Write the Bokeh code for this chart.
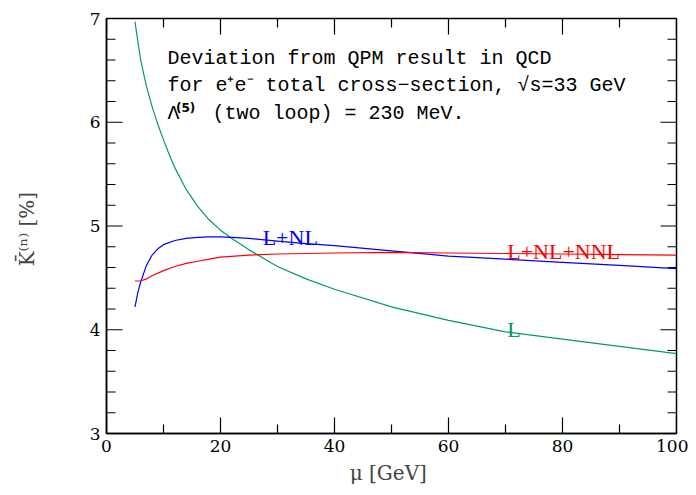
from bokeh.plotting import figure
from bokeh.models import Range1d, SingleIntervalTicker
from bokeh.core.properties import value
from bokeh.embed import file_html
from bokeh.resources import INLINE

# ---- data ----
mu_L = [5, 5.5, 6, 6.5, 7, 7.5, 8, 9, 10, 11, 12, 14, 16, 18, 20, 22, 25, 30, 35, 40, 50, 60, 70, 80, 90, 100]
K_L = [6.97, 6.78, 6.60, 6.47, 6.35, 6.25, 6.15, 5.98, 5.83, 5.69, 5.56, 5.35, 5.19, 5.06,
       4.96, 4.88, 4.77, 4.61, 4.49, 4.39, 4.22, 4.09, 3.98, 3.91, 3.84, 3.77]

mu_NL = [5, 5.5, 6, 7, 8, 9, 10, 12, 14, 16, 18, 20, 22, 25, 30, 35, 40, 50, 60, 70, 80, 90, 100]
K_NL = [4.22, 4.36, 4.46, 4.62, 4.72, 4.78, 4.82, 4.86, 4.88, 4.89, 4.895, 4.895, 4.89,
        4.88, 4.855, 4.83, 4.81, 4.76, 4.71, 4.68, 4.65, 4.62, 4.59]

mu_NNL = [5, 6, 7, 8, 10, 12, 14, 16, 18, 20, 25, 30, 40, 50, 60, 70, 80, 90, 100]
K_NNL = [4.47, 4.47, 4.49, 4.52, 4.57, 4.61, 4.64, 4.66, 4.68, 4.70, 4.72, 4.73, 4.74,
         4.745, 4.74, 4.735, 4.73, 4.725, 4.72]

x_major = [0, 20, 40, 60, 80, 100]
x_minor = [10, 30, 50, 70, 90]
y_major = [3, 4, 5, 6, 7]
y_minor = [3.2, 3.4, 3.6, 3.8, 4.2, 4.4, 4.6, 4.8, 5.2, 5.4, 5.6, 5.8, 6.2, 6.4, 6.6, 6.8]

series_labels = ["L", "L+NL", "L+NL+NNL"]
title_lines = ["Deviation from QPM result in QCD",
               "for e\u207ae\u207b total cross\u2212section, \u221as=33 GeV",
               "(two loop) = 230 MeV."]

GREEN = "#009a66"
BLUE = "#0000ff"
RED = "#ff0000"
SERIF = "DejaVu Serif"
LSERIF = "Liberation Serif"
MONO = "Liberation Mono"

X0, X1, Y0, Y1 = 0, 100, 3, 7
FRAME_W, FRAME_H = 570, 416

p = figure(width=688, height=487, output_backend="svg", toolbar_location=None,
           x_range=Range1d(X0, X1), y_range=Range1d(Y0, Y1),
           min_border_left=106, min_border_right=12, min_border_top=18, min_border_bottom=53)
p.xgrid.visible = False
p.ygrid.visible = False
p.outline_line_color = "black"
p.outline_line_width = 1.5
p.background_fill_color = None
p.border_fill_color = "white"

p.xaxis.ticker = SingleIntervalTicker(interval=20, num_minor_ticks=0)
p.yaxis.ticker = SingleIntervalTicker(interval=1, num_minor_ticks=0)

for ax in (p.xaxis[0], p.yaxis[0]):
    ax.axis_line_color = "black"
    ax.axis_line_width = 1.5
    ax.major_tick_line_color = None
    ax.minor_tick_line_color = None
    ax.major_tick_out = 0
    ax.minor_tick_out = 0
    ax.major_label_text_font = SERIF
    ax.major_label_text_font_size = "17px"
    ax.major_label_text_color = "black"
    ax.major_label_standoff = 6

p.xaxis.axis_label = "\u03bc  [GeV]"
p.xaxis.axis_label_text_font = SERIF
p.xaxis.axis_label_text_font_style = "normal"
p.xaxis.axis_label_text_font_size = "20px"
p.xaxis.axis_label_standoff = 6
p.yaxis.axis_label = "K\u0304\u207d\u207f\u207e  [%]"
p.yaxis.axis_label_text_font = SERIF
p.yaxis.axis_label_text_font_style = "normal"
p.yaxis.axis_label_text_font_size = "20px"
p.yaxis.axis_label_standoff = 48

# inward ticks on all four sides (lengths converted from pixels to data units)
dx = (X1 - X0) / FRAME_W
dy = (Y1 - Y0) / FRAME_H
MAJ, MIN = 16, 9
for ticks, L in ((x_major, MAJ), (x_minor, MIN)):
    p.segment(x0=ticks, y0=[Y0] * len(ticks), x1=ticks, y1=[Y0 + L * dy] * len(ticks),
              line_color="black", line_width=1.2)
    p.segment(x0=ticks, y0=[Y1] * len(ticks), x1=ticks, y1=[Y1 - L * dy] * len(ticks),
              line_color="black", line_width=1.2)
for ticks, L in ((y_major, MAJ), (y_minor, MIN)):
    p.segment(x0=[X0] * len(ticks), y0=ticks, x1=[X0 + L * dx] * len(ticks), y1=ticks,
              line_color="black", line_width=1.2)
    p.segment(x0=[X1] * len(ticks), y0=ticks, x1=[X1 - L * dx] * len(ticks), y1=ticks,
              line_color="black", line_width=1.2)

p.line(mu_L, K_L, line_color=GREEN, line_width=1.2)
p.line(mu_NL, K_NL, line_color=BLUE, line_width=1.2)
p.line(mu_NNL, K_NNL, line_color=RED, line_width=1.2)

def txt(x, y, t, color="black", font=LSERIF, size="22px", style="normal"):
    p.text(x=[x], y=[y], text=[t], text_color=color, text_font=value(font),
           text_font_size=value(size), text_font_style=style,
           text_baseline="alphabetic", text_align="left")

txt(27.4, 4.885, series_labels[1], BLUE)
txt(70.3, 4.753, series_labels[2], RED)
txt(70.3, 4.0, series_labels[0], GREEN)

txt(10.7, 6.615, title_lines[0], font=MONO, size="20px")
txt(10.7, 6.356, title_lines[1], font=MONO, size="20px")
txt(10.7, 6.087, "\u039b", font=MONO, size="20px")
txt(12.2, 6.14, "(5)", font="DejaVu Sans", size="12px", style="bold")
txt(18.6, 6.087, title_lines[2], font=MONO, size="20px")

open("out.html", "w").write(file_html(p, INLINE))
